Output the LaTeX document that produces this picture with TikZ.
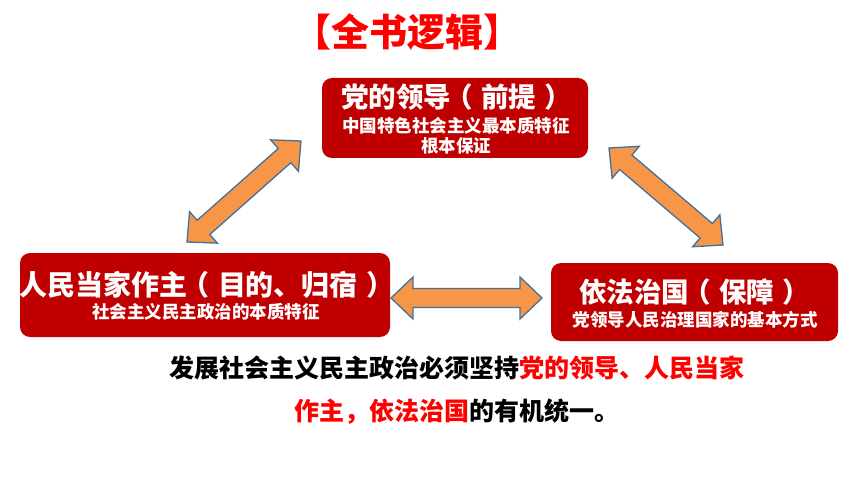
\documentclass[tikz,border=0pt]{standalone}
\usepackage{fontspec}
\setmainfont{Noto Sans CJK SC}
\usetikzlibrary{calc}
\definecolor{boxred}{HTML}{C00000}
\definecolor{brightred}{HTML}{FF0000}
\definecolor{arrowfill}{HTML}{F79646}
\definecolor{arrowline}{HTML}{41719C}
\tikzset{
  redbox/.style={fill=boxred, rounded corners=10pt, inner sep=0pt},
  headtext/.style={text=white, font=\bfseries\fontsize{27.5pt}{30pt}\selectfont, inner sep=0pt, anchor=west},
  subtext/.style={text=white, font=\bfseries\fontsize{17.5pt}{20pt}\selectfont, inner sep=0pt},
  bottomtext/.style={text=black, font=\bfseries\fontsize{25pt}{28pt}\selectfont, inner sep=0pt},
  blockarrow/.style={fill=arrowfill, draw=arrowline, line width=1.3pt, line join=miter}
}
\newcommand\lp{\kern-0.2em（\kern0.3em}
\newcommand\rp{\kern0.3em）}
\newcommand\hl{22pt}
\newcommand\hw{21pt}
\newcommand\sw{9.5pt}
\newcommand\dblarrow[2]{%
  \draw[blockarrow] (#1)
   -- ($(#1)!\hl!(#2)!\hw!90:(#2)$)
   -- ($(#1)!\hl!(#2)!\sw!90:(#2)$)
   -- ($(#2)!\hl!(#1)!\sw!-90:(#1)$)
   -- ($(#2)!\hl!(#1)!\hw!-90:(#1)$)
   -- (#2)
   -- ($(#2)!\hl!(#1)!\hw!90:(#1)$)
   -- ($(#2)!\hl!(#1)!\sw!90:(#1)$)
   -- ($(#1)!\hl!(#2)!\sw!-90:(#2)$)
   -- ($(#1)!\hl!(#2)!\hw!-90:(#2)$)
   -- cycle;}
\begin{document}
\begin{tikzpicture}[x=1pt,y=-1pt]
\useasboundingbox[fill=white] (0,0) rectangle (860,484);

% title
\node[text=brightred, font=\bfseries\fontsize{38pt}{40pt}\selectfont, inner sep=0pt] (title) at (407,32) {【全书逻辑】};

% boxes
\node[redbox, minimum width=266pt, minimum height=80pt] (top) at (455,118) {};
\node[headtext] (topT) at (341,97) {党的领导\lp 前提\rp};
\node[subtext] (topS1) at (456,126) {中国特色社会主义最本质特征};
\node[subtext] (topS2) at (456,146) {根本保证};

\node[redbox, minimum width=370pt, minimum height=84pt] (left) at (205,295) {};
\node[headtext, font=\bfseries\fontsize{28pt}{30pt}\selectfont] (leftT) at (19,285) {人民当家作主\lp 目的、归宿\rp};
\node[subtext] (leftS) at (206,312) {社会主义民主政治的本质特征};

\node[redbox, minimum width=287pt, minimum height=78pt] (right) at (694.5,302) {};
\node[headtext] (rightT) at (579,292) {依法治国\lp 保障\rp};
\node[subtext] (rightS) at (695,320) {党领导人民治理国家的基本方式};

% arrow tips
\coordinate (a1) at (187,242);
\coordinate (a2) at (301,141);
\coordinate (b1) at (609,148);
\coordinate (b2) at (723,245);
\coordinate (c1) at (391,298);
\coordinate (c2) at (542,298);
\dblarrow{a1}{a2}
\dblarrow{b1}{b2}
\dblarrow{c1}{c2}

% bottom text
\node[bottomtext] (line1) at (457,368) {发展社会主义民主政治必须坚持\textcolor{brightred}{党的领导、人民当家}};
\node[bottomtext] (line2) at (457,412) {\textcolor{brightred}{作主，依法治国}的有机统一。};
\end{tikzpicture}
\end{document}
